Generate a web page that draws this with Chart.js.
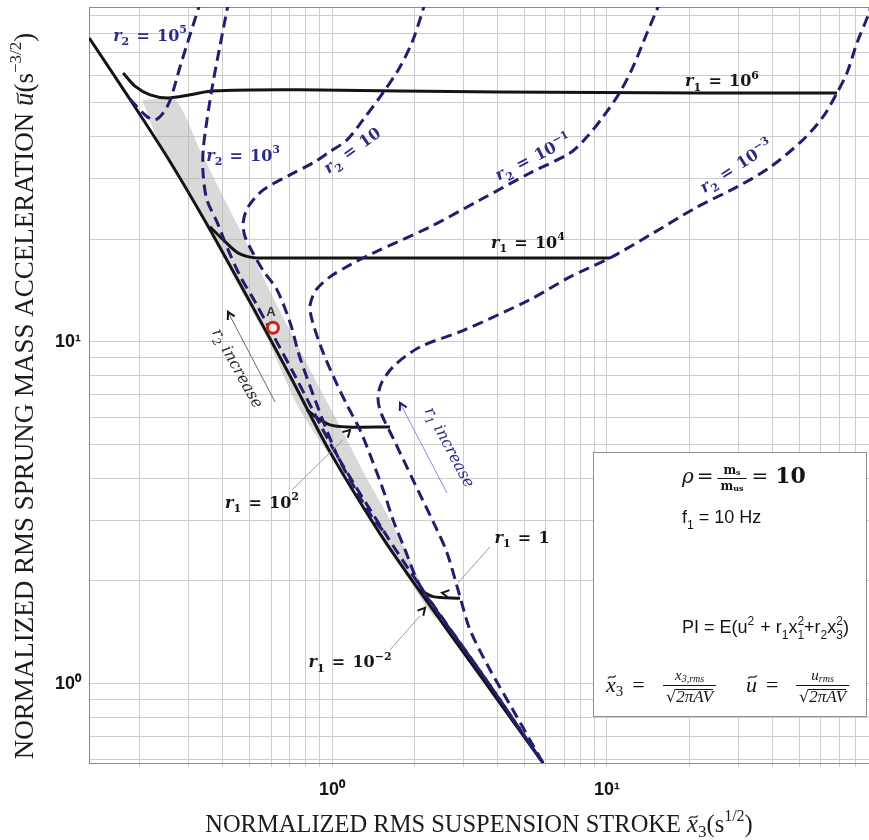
<!DOCTYPE html>
<html lang="en">
<head>
<meta charset="utf-8">
<title>Normalized RMS acceleration vs suspension stroke</title>
<script src="https://cdn.jsdelivr.net/npm/chart.js@4.4.1/dist/chart.umd.min.js"></script>
<style>
  html, body { margin: 0; padding: 0; background: #ffffff; }
  canvas { display: block; }
</style>
</head>
<body>
<canvas id="strokeChart" width="869" height="840"></canvas>
<script>
const SERIF = '"DejaVu Serif", serif';
const TIMES = '"Liberation Serif", "DejaVu Serif", serif';
const SANS = '"Liberation Sans", Arial, sans-serif';
const INK = '#141414';
const NAVY = '#1f1f6e';
const NAVY_TEXT = '#2c2c86';

// axis limits
const xMin = 0.1307, xMax = 89.7;
const yMin = 0.587, yMax = 95.4;

// lower envelope (r1 = 10^-2)
const envX = [0.131, 0.184, 0.258, 0.360, 0.503, 0.704, 0.983, 1.49, 2.09, 3.45, 5.85];
const envY = [77.4, 51.3, 33.6, 21.3, 13.1, 7.95, 4.77, 2.76, 1.86, 1.06, 0.587];

// constant r1 curves
const r1e6X = [0.174, 0.192, 0.218, 0.253, 0.305, 0.366, 0.765, 4.08, 21.8, 68.6];
const r1e6Y = [61.2, 56.0, 52.8, 51.7, 52.8, 54.2, 54.6, 53.8, 53.5, 53.5];
const r1e4X = [0.360, 0.402, 0.451, 0.503, 0.547, 1.77, 10.25];
const r1e4Y = [21.7, 19.9, 18.3, 17.7, 17.6, 17.6, 17.6];
const r1e2X = [0.811, 0.882, 0.983, 1.134, 1.625];
const r1e2Y = [6.33, 6.00, 5.72, 5.64, 5.64];
const r1e0X = [2.09, 2.33, 2.92];
const r1e0Y = [1.88, 1.80, 1.78];

// constant r2 curves
const r2e5X = [0.184, 0.211, 0.227, 0.243, 0.258, 0.280, 0.334];
const r2e5Y = [51.3, 45.8, 44.6, 46.7, 51.0, 63.7, 100];
const r2e3X = [0.422, 0.392, 0.369, 0.351, 0.340, 0.340, 0.351, 0.382, 0.419, 0.467, 0.525, 0.734, 1.025, 1.558, 2.16, 3.54, 5.85];
const r2e3Y = [100, 73.9, 57.2, 44.6, 36.4, 30.8, 26.0, 22.4, 18.6, 15.4, 13.1, 7.95, 4.77, 2.76, 1.86, 1.06, 0.587];
const r2e1X = [2.197, 1.970, 1.767, 1.532, 1.296, 1.134, 0.967, 0.853, 0.704, 0.561, 0.495, 0.475, 0.483, 0.516, 0.561, 0.631, 0.709, 0.759, 0.882, 1.043, 1.233, 1.398, 1.558];
const r2e1Y = [100, 76.4, 63.7, 53.5, 44.6, 39.0, 35.7, 33.4, 30.8, 27.8, 24.8, 22.3, 20.3, 18.2, 16.2, 14.2, 11.2, 9.16, 6.54, 4.67, 3.64, 3.08, 2.76];
const r2m1X = [15.72, 13.98, 12.43, 11.15, 9.67, 8.46, 7.34, 5.25, 3.45, 2.27, 1.41, 1.163, 0.983, 0.875, 0.832, 0.846, 0.920, 1.025, 1.134, 1.264, 1.398, 1.558, 1.666, 1.843, 2.038, 2.253, 3.54, 5.85];
const r2m1Y = [100, 80.1, 63.7, 53.8, 45.5, 39.8, 35.7, 31.2, 26.0, 21.7, 18.2, 16.8, 15.5, 14.2, 12.8, 11.6, 9.48, 7.74, 6.54, 5.53, 4.52, 3.57, 3.02, 2.47, 2.01, 1.76, 1.06, 0.587];
const r2m3X = [91.96, 89.68, 81.1, 74.6, 68.6, 61.0, 51.6, 39.1, 29.7, 21.25, 14.7, 10.25, 7.34, 5.25, 2.995, 2.089, 1.695, 1.520, 1.470, 1.507, 1.666, 1.970, 2.409, 2.619, 2.92, 3.175, 3.754, 4.552, 5.85];
const r2m3Y = [100, 91.6, 74.9, 61.2, 53.5, 45.5, 39.0, 32.4, 28.4, 24.8, 20.8, 17.6, 15.5, 13.3, 10.8, 9.67, 8.57, 7.64, 6.86, 6.20, 5.24, 3.95, 2.82, 2.42, 1.80, 1.44, 1.10, 0.839, 0.587];

// shaded optimum band (closed outline)
const bandX = [0.204, 0.269, 0.331, 0.408, 0.503, 0.605, 0.734, 0.889, 1.087, 1.318, 1.625, 2.004, 2.409, 2.179, 1.558, 1.069, 0.765, 0.571, 0.426, 0.318, 0.237, 0.204];
const bandY = [51.0, 51.0, 36.4, 26.0, 18.6, 13.7, 10.1, 7.49, 5.53, 4.08, 3.02, 2.15, 1.54, 1.70, 2.64, 4.22, 6.31, 10.5, 16.2, 25.2, 37.7, 51.0];

// design point A
const pointAX = [0.61];
const pointAY = [11.0];

const SUP = { '0': '⁰', '1': '¹', '2': '²', '3': '³', '4': '⁴', '5': '⁵', '6': '⁶', '7': '⁷', '8': '⁸', '9': '⁹', '-': '⁻' };

function zip(xs, ys) {
  return xs.map((x, i) => ({ x: x, y: ys[i] }));
}

// 1..9 x 10^n positions for the log grid
function gridValues(min, max) {
  const out = [];
  for (let e = Math.floor(Math.log10(min)); e <= Math.ceil(Math.log10(max)); e++) {
    for (let d = 1; d < 10; d++) {
      const v = d * Math.pow(10, e);
      if (v >= min && v <= max) out.push(v);
    }
  }
  return out;
}

function powerLabel(v) {
  const e = Math.log10(v);
  if (Math.abs(e - Math.round(e)) > 1e-6) return '';
  return '10' + String(Math.round(e)).split('').map(c => SUP[c]).join('');
}

// ---- small rich-text helpers (sub/superscripts, tilde, overline) ----
function measureParts(ctx, parts) {
  let w = 0;
  for (const p of parts) {
    ctx.font = p.f;
    p.w = ctx.measureText(p.t).width;
    if (p.b) p.w = Math.max(p.w, ctx.measureText(p.b).width);
    w += p.w + (p.gap || 0);
  }
  return w;
}

function drawTilde(ctx, cx, cy, w, color) {
  const x0 = cx - w / 2;
  ctx.beginPath();
  ctx.moveTo(x0, cy + 1.5);
  ctx.bezierCurveTo(x0 + w * 0.3, cy - 3, x0 + w * 0.7, cy + 3, x0 + w, cy - 1.5);
  ctx.strokeStyle = color;
  ctx.lineWidth = 1.2;
  ctx.stroke();
}

function drawParts(ctx, parts, x, y, align, color) {
  const w = measureParts(ctx, parts);
  let cx = align === 'center' ? x - w / 2 : (align === 'right' ? x - w : x);
  ctx.textAlign = 'left';
  ctx.textBaseline = 'alphabetic';
  for (const p of parts) {
    const dy = p.dy || 0;
    ctx.fillStyle = color;
    ctx.font = p.f;
    ctx.fillText(p.t, cx, y + dy);
    if (p.b) ctx.fillText(p.b, cx, y + p.db);
    if (p.tilde) drawTilde(ctx, cx + p.w / 2 + (p.tx || 0), y + dy - p.tilde, p.w * 0.8, color);
    if (p.over) {
      ctx.beginPath();
      ctx.moveTo(cx - 1, y + dy - p.over + 0.5);
      ctx.lineTo(cx + p.w, y + dy - p.over + 0.5);
      ctx.strokeStyle = color;
      ctx.lineWidth = 1;
      ctx.stroke();
    }
    cx += p.w + (p.gap || 0);
  }
  return w;
}

function drawFrac(ctx, num, den, x, barY, color, numUp, denDown) {
  const w = Math.max(measureParts(ctx, num), measureParts(ctx, den)) + 6;
  drawParts(ctx, num, x + w / 2, barY - numUp, 'center', color);
  drawParts(ctx, den, x + w / 2, barY + denDown, 'center', color);
  ctx.strokeStyle = color;
  ctx.lineWidth = 1;
  ctx.beginPath();
  ctx.moveTo(x, barY + 0.5);
  ctx.lineTo(x + w, barY + 0.5);
  ctx.stroke();
  return w;
}

function rLabel(idx, base, exp, size) {
  const s = Math.round(size * 0.68);
  const parts = [
    { t: 'r', f: `italic bold ${size}px ${SERIF}` },
    { t: idx, f: `bold ${s}px ${SERIF}`, dy: size * 0.3, gap: size * 0.45 },
    { t: '=', f: `bold ${size}px ${SERIF}`, gap: size * 0.45 },
    { t: base, f: `bold ${size}px ${SERIF}` }
  ];
  if (exp) parts.push({ t: exp, f: `bold ${s}px ${SERIF}`, dy: -size * 0.45 });
  return parts;
}

function placeText(ctx, parts, x, y, angleDeg, color, size) {
  ctx.save();
  ctx.translate(x, y);
  ctx.rotate(angleDeg * Math.PI / 180);
  drawParts(ctx, parts, 0, size * 0.35, 'center', color);
  ctx.restore();
}

function chevron(ctx, x, y, ang, size, color) {
  ctx.save();
  ctx.translate(x, y);
  ctx.rotate(ang);
  ctx.beginPath();
  ctx.moveTo(-size, -size * 0.55);
  ctx.lineTo(0, 0);
  ctx.lineTo(-size, size * 0.55);
  ctx.strokeStyle = color;
  ctx.lineWidth = 2;
  ctx.stroke();
  ctx.restore();
}

function drawInfo(ctx, L, T, R, B) {
  ctx.save();
  ctx.fillStyle = '#ffffff';
  ctx.fillRect(L, T, R - L, B - T);
  ctx.strokeStyle = '#8f8f8f';
  ctx.lineWidth = 1;
  ctx.strokeRect(L + 0.5, T + 0.5, R - L - 1, B - T - 1);

  // rho = m_s / m_us = 10
  let x = L + 89;
  const yb = T + 31;
  x += drawParts(ctx, [{ t: 'ρ', f: `italic 20px ${SERIF}`, gap: 3 }, { t: '=', f: `20px ${SERIF}`, gap: 4 }], x, yb, 'left', INK);
  x += drawFrac(ctx,
    [{ t: 'm', f: `bold 12px ${SERIF}` }, { t: 's', f: `bold 8px ${SERIF}`, dy: 1 }],
    [{ t: 'm', f: `bold 12px ${SERIF}` }, { t: 'us', f: `bold 8px ${SERIF}`, dy: 1 }],
    x, T + 26, INK, 4, 12) + 5;
  drawParts(ctx, [{ t: '=', f: `20px ${SERIF}`, gap: 7 }, { t: '10', f: `bold 22px ${SERIF}` }], x, yb, 'left', INK);

  // f1 = 10 Hz
  drawParts(ctx, [
    { t: 'f', f: `18px ${SANS}` },
    { t: '1', f: `12px ${SANS}`, dy: 6 },
    { t: ' = 10 Hz', f: `18px ${SANS}` }
  ], L + 89, T + 71, 'left', INK);

  // performance index
  const S = `18px ${SANS}`, s = `12px ${SANS}`;
  drawParts(ctx, [
    { t: 'PI = E(u', f: S },
    { t: '2', f: s, dy: -8, gap: 1 },
    { t: ' + r', f: S },
    { t: '1', f: s, dy: 6 },
    { t: 'x', f: S },
    { t: '2', b: '1', f: s, dy: -8, db: 6 },
    { t: '+r', f: S },
    { t: '2', f: s, dy: 6 },
    { t: 'x', f: S },
    { t: '2', b: '3', f: s, dy: -8, db: 6 },
    { t: ')', f: S }
  ], L + 89, T + 181, 'left', INK);

  // normalisations
  const I22 = `italic 22px ${TIMES}`, R22 = `22px ${TIMES}`;
  const I15 = `italic 15px ${TIMES}`, I10 = `italic 10px ${TIMES}`;
  const root = [{ t: '√', f: `16px ${SERIF}` }, { t: '2πAV', f: `italic 17px ${TIMES}`, over: 13 }];
  const yb2 = T + 240;
  drawParts(ctx, [
    { t: 'x', f: I22, tilde: 15, tx: 1 },
    { t: '3', f: `15px ${TIMES}`, dy: 4, gap: 9 },
    { t: '=', f: R22 }
  ], L + 13, yb2, 'left', INK);
  drawFrac(ctx, [{ t: 'x', f: I15 }, { t: '3,rms', f: I10, dy: 2 }], root, L + 70, T + 233, INK, 5, 17);
  drawParts(ctx, [
    { t: 'u', f: I22, tilde: 15, tx: 1, gap: 9 },
    { t: '=', f: R22 }
  ], L + 153, yb2, 'left', INK);
  drawFrac(ctx, [{ t: 'u', f: I15 }, { t: 'rms', f: I10, dy: 2 }], root, L + 203, T + 233, INK, 5, 17);
  ctx.restore();
}

// plot frame drawn over the grid
const framePlugin = {
  id: 'frame',
  beforeDatasetsDraw(chart) {
    const { ctx, chartArea: a } = chart;
    ctx.save();
    ctx.strokeStyle = '#8a8a8a';
    ctx.lineWidth = 1;
    ctx.strokeRect(a.left + 0.5, a.top + 0.5, a.right - a.left, a.bottom - a.top);
    ctx.restore();
  }
};

const notesPlugin = {
  id: 'notes',
  afterDatasetsDraw(chart) {
    const ctx = chart.ctx;
    const sx = chart.scales.x, sy = chart.scales.y;
    const P = (x, y) => [sx.getPixelForValue(x), sy.getPixelForValue(y)];
    ctx.save();

    // curve labels
    const navyLabels = [
      [0.218, 79.0, '2', '10', '5', 0],
      [0.475, 35.2, '2', '10', '3', 0],
      [1.182, 36.4, '2', '10', '', -36],
      [5.38, 34.75, '2', '10', '−1', -27],
      [29.45, 32.7, '2', '10', '−3', -33]
    ];
    const blackLabels = [
      [26.2, 58.3, '1', '10', '6', 0],
      [5.16, 19.6, '1', '10', '4', 0],
      [0.5565, 3.405, '1', '10', '2', 0],
      [4.909, 2.69, '1', '1', '', 0],
      [1.163, 1.16, '1', '10', '−2', 0]
    ];
    navyLabels.forEach(l => {
      const [px, py] = P(l[0], l[1]);
      placeText(ctx, rLabel(l[2], l[3], l[4], 16), px, py, l[5], NAVY_TEXT, 16);
    });
    blackLabels.forEach(l => {
      const [px, py] = P(l[0], l[1]);
      placeText(ctx, rLabel(l[2], l[3], l[4], 16), px, py, l[5], INK, 16);
    });

    // leader lines with arrow heads on the r1 curves
    const leaders = [
      { from: [0.7153, 3.692], to: [1.0965, 5.17], head: [1.163, 5.529], dir: null },
      { from: [3.754, 2.515], to: [2.872, 1.974], head: [2.512, 1.846], dir: [-1, -0.15] },
      { from: [1.625, 1.257], to: [2.089, 1.58], head: [2.179, 1.668], dir: null }
    ];
    leaders.forEach(l => {
      const a = P(l.from[0], l.from[1]), b = P(l.to[0], l.to[1]), h = P(l.head[0], l.head[1]);
      ctx.beginPath();
      ctx.moveTo(a[0], a[1]);
      ctx.lineTo(b[0], b[1]);
      ctx.strokeStyle = '#9a9a9a';
      ctx.lineWidth = 1;
      ctx.stroke();
      const ang = l.dir ? Math.atan2(l.dir[1], l.dir[0]) : Math.atan2(b[1] - a[1], b[0] - a[0]);
      chevron(ctx, h[0], h[1], ang, 7, INK);
    });

    // "r increase" arrows
    const arrows = [
      { from: [0.6205, 6.677], to: [0.4185, 12.24], line: '#6a6a6a', head: INK },
      { from: [2.619, 3.618], to: [1.767, 6.631], line: '#8c8cd0', head: NAVY }
    ];
    arrows.forEach(r => {
      const a = P(r.from[0], r.from[1]), b = P(r.to[0], r.to[1]);
      ctx.beginPath();
      ctx.moveTo(a[0], a[1]);
      ctx.lineTo(b[0], b[1]);
      ctx.strokeStyle = r.line;
      ctx.lineWidth = 1;
      ctx.stroke();
      chevron(ctx, b[0], b[1], Math.atan2(b[1] - a[1], b[0] - a[0]), 7, r.head);
    });
    const incr = idx => [
      { t: 'r', f: `italic 16px ${SERIF}` },
      { t: idx, f: `italic 11px ${SERIF}`, dy: 4 },
      { t: ' increase', f: `italic 16px ${SERIF}` }
    ];
    let p = P(0.455, 8.395);
    placeText(ctx, incr('2'), p[0], p[1], 61, '#2a2a2a', 16);
    p = P(2.686, 4.93);
    placeText(ctx, incr('1'), p[0], p[1], 62, NAVY_TEXT, 16);

    // point A label
    p = P(0.6, 12.16);
    ctx.font = `bold 13px ${SANS}`;
    ctx.fillStyle = '#333333';
    ctx.textAlign = 'center';
    ctx.textBaseline = 'middle';
    ctx.fillText('A', p[0], p[1]);

    // parameter box
    const b1 = P(8.894, 4.768), b2 = P(88.2, 0.8008);
    drawInfo(ctx, Math.round(b1[0]), Math.round(b1[1]), Math.round(b2[0]), Math.round(b2[1]));
    ctx.restore();
  },
  afterDraw(chart) {
    const ctx = chart.ctx;
    const a = chart.chartArea;
    ctx.save();
    const T24 = `24.5px ${TIMES}`;
    drawParts(ctx, [
      { t: 'NORMALIZED RMS SUSPENSION STROKE ', f: T24 },
      { t: 'x', f: `italic 24.5px ${TIMES}`, tilde: 15, tx: 1 },
      { t: '3', f: `17px ${TIMES}`, dy: 5 },
      { t: '(s', f: T24 },
      { t: '1/2', f: `16px ${TIMES}`, dy: -11 },
      { t: ')', f: T24 }
    ], (a.left + a.right) / 2, 832, 'center', '#1c1c1c');

    const T27 = `27px ${TIMES}`;
    ctx.translate(33, (a.top + a.bottom) / 2 + 11);
    ctx.rotate(-Math.PI / 2);
    drawParts(ctx, [
      { t: 'NORMALIZED RMS SPRUNG MASS ACCELERATION ', f: T27 },
      { t: 'u', f: `italic 27px ${TIMES}`, tilde: 15, tx: 1 },
      { t: '(s', f: T27 },
      { t: '−3/2', f: `17px ${TIMES}`, dy: -12 },
      { t: ')', f: T27 }
    ], 0, 0, 'center', '#1c1c1c');
    ctx.restore();
  }
};

function solid(label, xs, ys) {
  return {
    label: label, data: zip(xs, ys), showLine: true,
    borderColor: INK, borderWidth: 3, pointRadius: 0,
    tension: 0.3, fill: false, clip: 0, order: 20
  };
}

function dashed(label, xs, ys) {
  return {
    label: label, data: zip(xs, ys), showLine: true,
    borderColor: NAVY, borderWidth: 3, borderDash: [11, 6], pointRadius: 0,
    tension: 0.3, fill: false, clip: 0, order: 10
  };
}

const chart = new Chart(document.getElementById('strokeChart'), {
  type: 'scatter',
  data: {
    datasets: [
      {
        label: 'optimum band', data: zip(bandX, bandY), showLine: true,
        borderWidth: 0, borderColor: 'rgba(0,0,0,0)', backgroundColor: 'rgba(180,180,180,0.5)',
        fill: 'shape', pointRadius: 0, tension: 0.25, clip: 0, order: 30
      },
      solid('r1 = 1e-2', envX, envY),
      solid('r1 = 1e6', r1e6X, r1e6Y),
      solid('r1 = 1e4', r1e4X, r1e4Y),
      solid('r1 = 1e2', r1e2X, r1e2Y),
      solid('r1 = 1', r1e0X, r1e0Y),
      dashed('r2 = 1e5', r2e5X, r2e5Y),
      dashed('r2 = 1e3', r2e3X, r2e3Y),
      dashed('r2 = 10', r2e1X, r2e1Y),
      dashed('r2 = 1e-1', r2m1X, r2m1Y),
      dashed('r2 = 1e-3', r2m3X, r2m3Y),
      {
        label: 'A', data: zip(pointAX, pointAY), showLine: false,
        pointRadius: 5.5, pointBorderWidth: 3, pointBorderColor: '#c4261a',
        pointBackgroundColor: '#fbe9e6', order: 0
      }
    ]
  },
  options: {
    responsive: false,
    animation: false,
    devicePixelRatio: 1,
    layout: { autoPadding: false, padding: { top: 7, right: 0, bottom: 0, left: 0 } },
    plugins: {
      legend: { display: false },
      tooltip: { enabled: false }
    },
    scales: {
      x: {
        type: 'logarithmic',
        min: xMin,
        max: xMax,
        afterBuildTicks: s => { s.ticks = gridValues(xMin, xMax).map(v => ({ value: v })); },
        afterFit: s => { s.height = 77; s.paddingLeft = 0; s.paddingRight = 0; },
        border: { display: false },
        grid: { color: '#cdcdcd', lineWidth: 1, drawTicks: true, tickLength: 4 },
        ticks: {
          autoSkip: false, maxRotation: 0, padding: 12, color: INK,
          font: { family: SANS, size: 18, weight: 'bold' },
          callback: v => powerLabel(v)
        }
      },
      y: {
        type: 'logarithmic',
        min: yMin,
        max: yMax,
        afterBuildTicks: s => { s.ticks = gridValues(yMin, yMax).map(v => ({ value: v })); },
        afterFit: s => { s.width = 89; s.paddingTop = 0; s.paddingBottom = 0; },
        border: { display: false },
        grid: { color: '#cdcdcd', lineWidth: 1, drawTicks: false },
        ticks: {
          autoSkip: false, padding: 8, color: INK,
          font: { family: SANS, size: 18, weight: 'bold' },
          callback: v => powerLabel(v)
        }
      }
    }
  },
  plugins: [framePlugin, notesPlugin]
});
</script>
</body>
</html>
